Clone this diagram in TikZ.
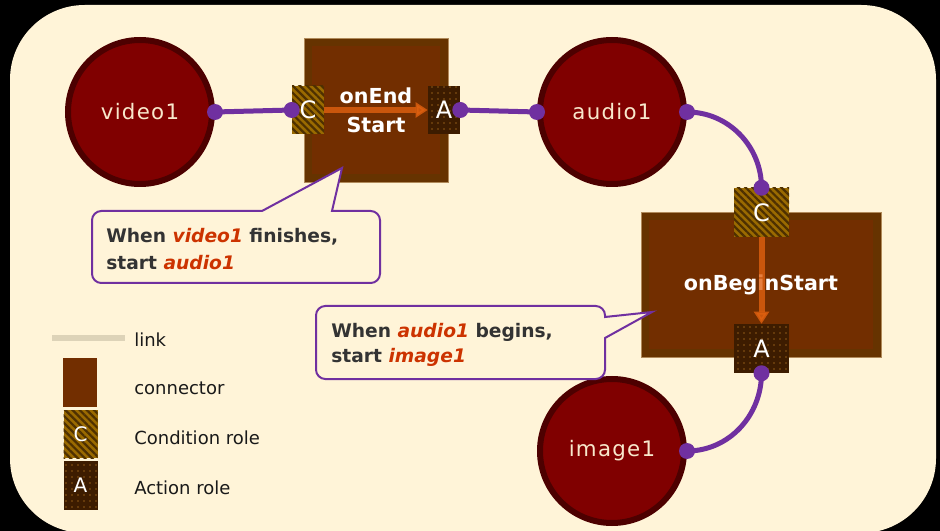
\documentclass[tikz,border=0pt]{standalone}
\usepackage{fontspec}
\setmainfont{DejaVu Sans}
\newfontfamily\circfont[LetterSpace=6]{DejaVu Sans}
\usetikzlibrary{patterns.meta,arrows.meta}
\definecolor{bgcream}{HTML}{FFF4D8}
\definecolor{circfill}{HTML}{800000}
\definecolor{circring}{HTML}{4D0000}
\definecolor{circtext}{HTML}{F8E8CC}
\definecolor{boxframe}{HTML}{663300}
\definecolor{boxfill}{HTML}{722E00}
\definecolor{boxedge}{HTML}{B08A5A}
\definecolor{cbase}{HTML}{9A6A00}
\definecolor{cdark}{HTML}{4E3000}
\definecolor{abase}{HTML}{3D1C00}
\definecolor{adot}{HTML}{8E5A18}
\definecolor{linkpurple}{HTML}{7030A0}
\definecolor{flowc}{HTML}{E0600F}
\definecolor{calltext}{HTML}{333333}
\definecolor{callhi}{HTML}{CC3300}
\definecolor{legline}{HTML}{DDD3B8}
\tikzset{
  circnode/.style={circle, fill=circfill, draw=circring, line width=4.5pt,
    minimum size=108pt, inner sep=0pt, text=circtext,
    font=\circfont\fontsize{16}{19}\selectfont},
  connbox/.style={rectangle, fill=boxfill, draw=boxframe, line width=6pt,
    inner sep=0pt, text=white, align=center,
    font=\bfseries\fontsize{15.5}{22}\selectfont},
  condbox/.style={rectangle, fill=cbase, inner sep=0pt, text=white,
    postaction={pattern={Lines[angle=-45,distance=3.8pt,line width=1.7pt]}, pattern color=cdark},
    font=\fontsize{18}{20}\selectfont},
  actbox/.style={rectangle, fill=abase, inner sep=0pt, text=white,
    postaction={pattern={Dots[distance=4.5pt,radius=0.7pt]}, pattern color=adot},
    font=\fontsize{18}{20}\selectfont},
  linkline/.style={draw=linkpurple, line width=3.75pt},
  linkdot/.style={fill=linkpurple},
  flow/.style={draw=flowc, line width=4.5pt, opacity=0.8,
    -{Triangle[width=11pt,length=9pt]}},
  callout/.style={fill=bgcream, draw=linkpurple, line width=1.5pt, line join=miter},
  calltxt/.style={anchor=base west, inner sep=0pt, text=calltext,
    font=\bfseries\fontsize{14}{20}\selectfont},
  legtxt/.style={anchor=base west, inner sep=0pt, text=black!90,
    font=\fontsize{13.5}{16}\selectfont},
}
\begin{document}
\begin{tikzpicture}[x=0.75pt,y=-0.75pt]
\useasboundingbox (0,0) rectangle (940,531);
\fill[black] (0,0) rectangle (940,531);
\fill[bgcream, rounded corners=56pt] (10,5) rectangle (936,533);

% media nodes
\node[circnode] (video1) at (140,112) {video1};
\node[circnode] (audio1) at (612,112) {audio1};
\node[circnode] (image1) at (612,451) {image1};

% connectors
\node[connbox, minimum width=102pt, minimum height=102pt] (onend) at (376,110) {onEnd\\Start};
\draw[boxedge, line width=0.6pt] (304,38) rectangle (448,182);
\node[condbox, minimum width=24pt, minimum height=36pt] (c1) at (308,110) {C};
\node[actbox, minimum width=24pt, minimum height=36pt] (a1) at (444,110) {A};

\node[connbox, minimum width=174pt, minimum height=102.75pt] (onbegin) at (761,284.5) {onBeginStart};
\draw[boxedge, line width=0.6pt] (641,212) rectangle (881,357);
\node[condbox, minimum width=41.25pt, minimum height=36.75pt] (c2) at (761.5,212.5) {C};
\node[actbox, minimum width=41.25pt, minimum height=36.75pt] (a2) at (761.5,348.5) {A};

% flows inside connectors
\draw[flow] (c1.east) -- (a1.west);
\draw[flow] (c2.south) -- (a2.north);

% links
\draw[linkline] (video1.east) -- (c1.west);
\draw[linkline] (a1.east) -- (audio1.west);
\draw[linkline] (audio1.east) to[out=0,in=90] (c2.north);
\draw[linkline] (a2.south) to[out=-90,in=0] (image1.east);
\foreach \p in {video1.east, c1.west, a1.east, audio1.west, audio1.east, c2.north, a2.south, image1.east}
  \fill[linkdot] (\p) circle (6pt);

% callout 1
\coordinate (tip1) at (342,168);
\draw[callout] (262,211) -- (tip1) -- (332,211) [rounded corners=7pt] -- (380,211) -- (380,283) -- (92,283) -- (92,211) [sharp corners] -- cycle;
\node[calltxt] (t1a) at (106,243) {When \textcolor{callhi}{\itshape video1} finishes,};
\node[calltxt] (t1b) at (106,270) {start \textcolor{callhi}{\itshape audio1}};

% callout 2
\coordinate (tip2) at (652,312);
\draw[callout] (605,338) -- (tip2) -- (605,317) [rounded corners=7pt] -- (605,306) -- (316,306) -- (316,379) -- (605,379) [sharp corners] -- cycle;
\node[calltxt] (t2a) at (331,338) {When \textcolor{callhi}{\itshape audio1} begins,};
\node[calltxt] (t2b) at (331,363) {start \textcolor{callhi}{\itshape image1}};

% legend
\coordinate (l1) at (52,338);
\coordinate (l2) at (125,338);
\draw[legline, line width=4.5pt] (l1) -- (l2);
\node[legtxt] (lk) at (134,346) {link};
\node[rectangle, fill=boxfill, minimum width=25.5pt, minimum height=36.75pt, inner sep=0pt] (lconn) at (80,382.5) {};
\node[legtxt] (lct) at (134,394) {connector};
\node[condbox, minimum width=25.5pt, minimum height=36pt, font=\fontsize{15}{17}\selectfont] (lc) at (80.5,434) {C};
\node[legtxt] (lcr) at (134,444) {Condition role};
\node[actbox, minimum width=25.5pt, minimum height=36.75pt, font=\fontsize{15}{17}\selectfont] (la) at (80.5,485.5) {A};
\node[legtxt] (lar) at (134,494) {Action role};
\end{tikzpicture}
\end{document}
